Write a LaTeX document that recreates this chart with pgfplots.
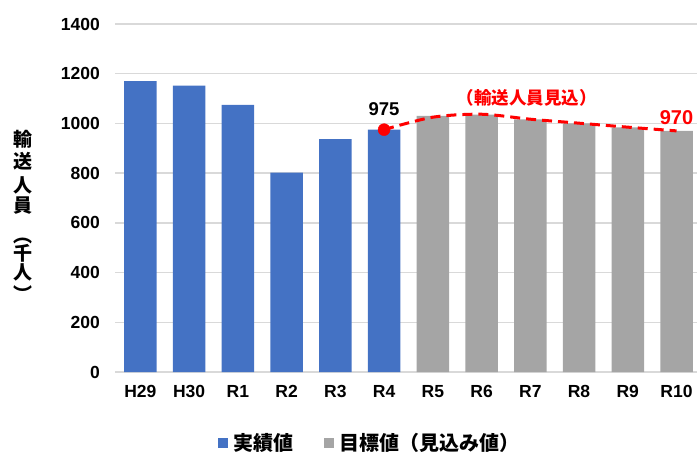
\documentclass[border=0pt]{standalone}
\usepackage{pgfplots}
\pgfplotsset{compat=1.18}
\usepackage{fontspec}
\setmainfont{Liberation Sans}
\newfontfamily\jp{Noto Sans CJK JP}
\definecolor{barblue}{HTML}{4472C4}
\definecolor{bargray}{HTML}{A5A5A5}
\definecolor{gridgray}{HTML}{D9D9D9}
\begin{document}
\begin{tikzpicture}
\begin{axis}[
  at={(0pt,0pt)}, anchor=south west,
  scale only axis, width=582pt, height=348pt,
  xmin=-0.52, xmax=11.42, ymin=0, ymax=1400,
  ytick={0,200,...,1400},
  xtick={0,...,11},
  xticklabels={H29,H30,R1,R2,R3,R4,R5,R6,R7,R8,R9,R10},
  ymajorgrids, grid style={gridgray, line width=1.3pt},
  axis x line*=bottom, axis y line*=left,
  x axis line style={gridgray, line width=1.3pt, -},
  y axis line style={draw=none},
  major tick length=0pt,
  /pgf/number format/assume math mode=true,
  /pgf/number format/1000 sep={},
  ticklabel style={font=\fontsize{17.5}{18}\selectfont\bfseries, inner sep=0pt},
  yticklabel style={anchor=east, xshift=-15pt},
  xticklabel style={anchor=north, yshift=-13pt},
  clip=false,
  legend style={at={(rel axis cs:0.437,-0.204)}, anchor=center, draw=none, fill=none,
    legend columns=2, font=\jp\bfseries\fontsize{20}{20}\selectfont,
    /tikz/every odd column/.append style={column sep=4pt},
    /tikz/every even column/.append style={column sep=30pt},
    nodes={inner sep=1pt}},
  legend image code/.code={\fill[#1] (0pt,-5pt) rectangle (10pt,5pt);},
]
\addplot[ybar, bar width=32.5pt, bar shift=0pt, fill=barblue, draw=none]
  coordinates {(0,1170) (1,1152) (2,1075) (3,802) (4,937) (5,975)};
\addlegendentry{実績値}
\addplot[ybar, bar width=32.5pt, bar shift=0pt, fill=bargray, draw=none]
  coordinates {(6,1030) (7,1035) (8,1016) (9,1000) (10,984) (11,970)};
\addlegendentry{目標値（見込み値）}
\addplot[red, line width=3pt, dash pattern=on 10pt off 6pt, smooth, tension=0.5, forget plot]
  coordinates {(5,975) (6,1025) (7,1037) (8,1017) (9,1001) (10,985) (11,970)};
\addplot[only marks, mark=*, mark size=6pt, red, forget plot] coordinates {(5,975)};
\node[font=\fontsize{18.5}{19}\selectfont\bfseries] at (axis cs:5,1056) {975};
\node[font=\fontsize{20}{20}\selectfont\bfseries, text=red] at (axis cs:11,1024) {970};
\node[font=\jp\bfseries\fontsize{17.5}{17.5}\selectfont, text=red] at (axis cs:7.93,1104) {（輸送人員見込）};
\end{axis}
\begin{scope}[every node/.style={font=\jp\bfseries\fontsize{19}{19}\selectfont, inner sep=0pt}]
\node at (-92pt,233pt) {輸};
\node at (-92pt,211pt) {送};
\node at (-92pt,187pt) {人};
\node at (-92pt,166pt) {員};
\node at (-92pt,131pt) {︵};
\node at (-92pt,119pt) {千};
\node at (-92pt,100pt) {人};
\node at (-92pt,78pt) {︶};
\end{scope}
\useasboundingbox (-115pt,-80pt) rectangle (583pt,372pt);
\end{tikzpicture}
\end{document}
